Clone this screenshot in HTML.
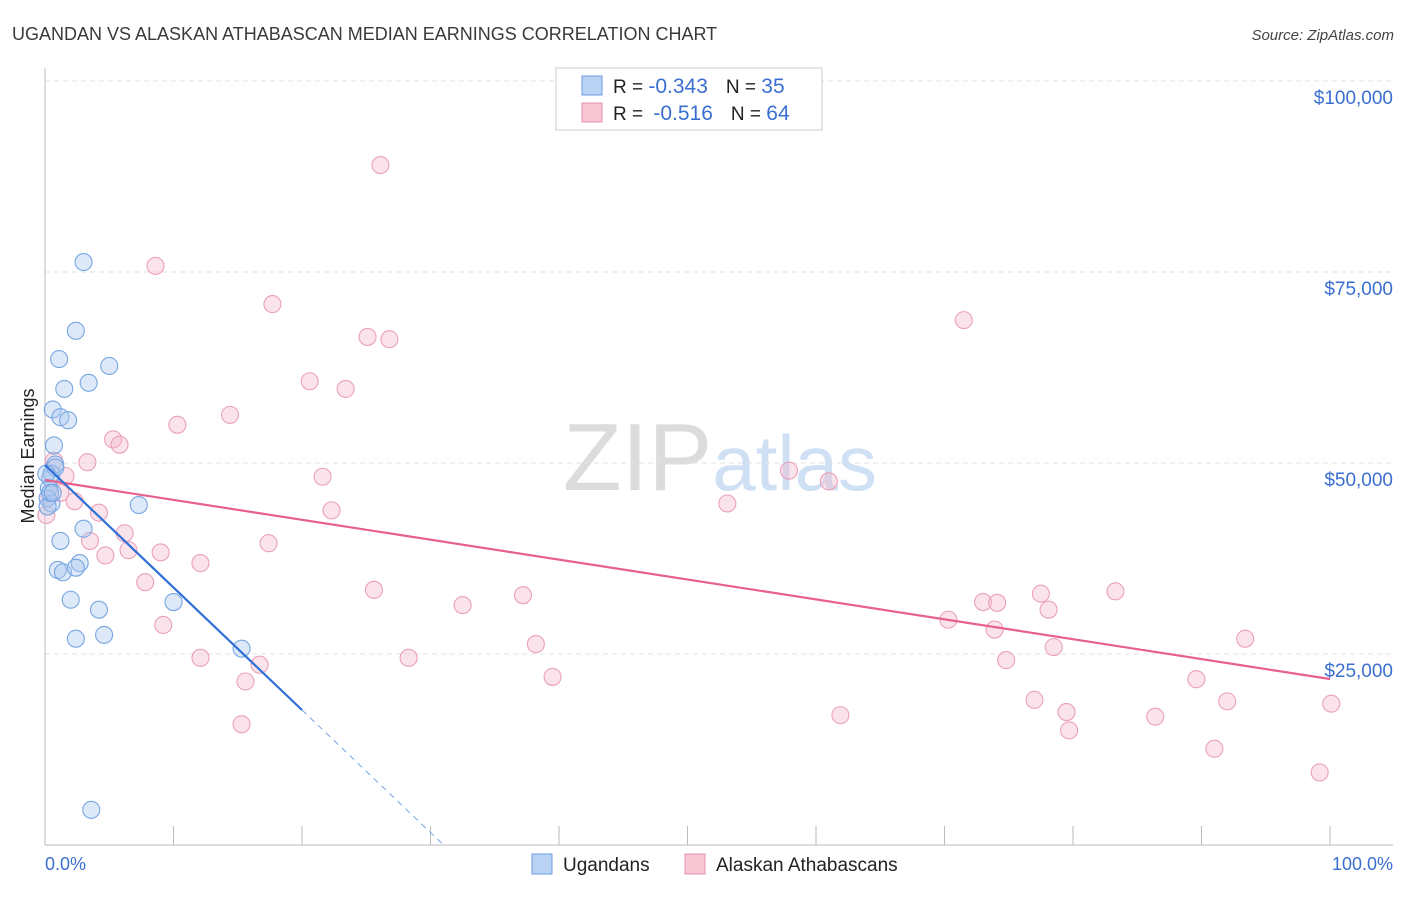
<!DOCTYPE html>
<html><head><meta charset="utf-8"><style>
body{margin:0;background:#fff;font-family:"Liberation Sans",sans-serif;}
svg text{font-family:"Liberation Sans",sans-serif;}
</style></head><body>
<svg id="chart" width="1406" height="892" xmlns="http://www.w3.org/2000/svg">
<text x="12" y="40" font-size="18" fill="#3a3a3a">UGANDAN VS ALASKAN ATHABASCAN MEDIAN EARNINGS CORRELATION CHART</text>
<text x="1394" y="40" font-size="15" fill="#444" text-anchor="end" font-style="italic">Source: ZipAtlas.com</text>
<text x="720" y="490" font-size="96" text-anchor="middle" fill="#ddd" font-family="Liberation Serif"><tspan fill="#dcdcdc">ZIP</tspan><tspan fill="#cfe0f4" font-family="Liberation Sans" font-size="78">atlas</tspan></text>
<g id="grid"></g>
<line x1="45" y1="68" x2="45" y2="845" stroke="#bbb"/>
<line x1="45" y1="845" x2="1393" y2="845" stroke="#bbb"/>
<text transform="translate(34,456) rotate(-90)" font-size="18" fill="#222" text-anchor="middle">Median Earnings</text>
<text x="45" y="870" font-size="18" fill="#3a6fd0">0.0%</text>
<text x="1393" y="870" font-size="18" fill="#3a6fd0" text-anchor="end">100.0%</text>
<g id="pts"></g>
<g id="lines"></g>
<g>
<rect x="556" y="68" width="266" height="62" fill="#fff" stroke="#ccc"/>
<rect x="582" y="76" width="20" height="19" fill="#b9d3f5" stroke="#6a9ee0"/>
<rect x="582" y="103" width="20" height="19" fill="#f9c6d6" stroke="#e890b0"/>
<text x="613" y="93" font-size="19" fill="#222">R = <tspan fill="#3a6fd0" font-size="21">-0.343</tspan><tspan dx="18">N = </tspan><tspan fill="#3a6fd0" font-size="21">35</tspan></text>
<text x="613" y="120" font-size="19" fill="#222">R = <tspan fill="#3a6fd0" dx="5" font-size="21">-0.516</tspan><tspan dx="18">N = </tspan><tspan fill="#3a6fd0" font-size="21">64</tspan></text>
</g>
<g>
<rect x="532" y="854" width="20" height="20" fill="#b9d3f5" stroke="#6a9ee0"/>
<text x="563" y="871" font-size="19" fill="#222">Ugandans</text>
<rect x="685" y="854" width="20" height="20" fill="#f9c6d6" stroke="#e890b0"/>
<text x="716" y="871" font-size="19" fill="#222">Alaskan Athabascans</text>
</g>
</svg>
<script>
const yTicks=[25000,50000,75000,100000];
const yTickLabels=["$25,000","$50,000","$75,000","$100,000"];
const xTicks=[0,10,20,30,40,50,60,70,80,90,100];
const ugX=[3.0,2.4,1.1,5.0,3.4,1.5,0.6,1.2,1.8,0.7,0.8,0.5,0.4,0.3,0.2,0.5,7.3,3.0,1.2,1.0,1.4,2.7,2.4,4.2,2.0,10.0,2.4,4.6,15.3,3.6,0.8,0.2,0.4,0.1,0.6];
const ugY=[76300,67300,63600,62700,60500,59700,57000,56000,55600,52300,49800,48600,48000,46700,45400,44700,44500,41400,39800,36000,35700,36900,36300,30800,32100,31800,27000,27500,25700,4600,49400,44300,46100,48600,46100];
const akX=[26.1,8.6,17.7,71.5,25.1,26.8,20.6,23.4,14.4,10.3,5.3,5.8,0.7,3.3,1.6,21.6,57.9,61.0,53.1,2.3,22.3,4.2,0.1,6.2,17.4,9.0,4.7,6.5,12.1,7.8,25.6,37.2,32.5,83.3,77.5,73.0,74.1,78.1,70.3,9.2,73.9,78.5,93.4,38.2,12.1,28.3,16.7,74.8,15.6,39.5,89.6,77.0,92.0,100.1,61.9,79.5,86.4,15.3,79.7,91.0,99.2,3.5,1.2,0.2];
const akY=[89000,75800,70800,68700,66500,66200,60700,59700,56300,55000,53100,52400,50300,50100,48300,48200,49000,47600,44700,45000,43800,43500,43200,40800,39500,38300,37900,38600,36900,34400,33400,32700,31400,33200,32900,31800,31700,30800,29500,28800,28200,25900,27000,26300,24500,24500,23600,24200,21400,22000,21700,19000,18800,18500,17000,17400,16800,15800,15000,12600,9500,39800,46100,45400];
const pinkLine=[47775,21728];
const blueLine=[49738,17670];
const NS="http://www.w3.org/2000/svg";
const X=v=>45+v/100*1285;
const Y=v=>845-v/25000*191;
function mk(t,a,p){const e=document.createElementNS(NS,t);for(const k in a)e.setAttribute(k,a[k]);p.appendChild(e);return e;}
const grid=document.getElementById('grid');
yTicks.forEach((t,i)=>{
 const l=mk('line',{x1:45,x2:1393,y1:Y(t),y2:Y(t),stroke:'#e2e2e2','stroke-dasharray':'5,4'},grid);
 
 
 const tx=mk('text',{x:1393,y:Y(t)+23,'font-size':19,fill:'#3a6fd0','text-anchor':'end'},grid);
 tx.textContent=yTickLabels[i];
 
 
});
xTicks.forEach(t=>{
 const l=mk('line',{x1:X(t),x2:X(t),y1:826,y2:845,stroke:'#bbb'},grid);
 
 
});
const pts=document.getElementById('pts');
akX.forEach((x,i)=>{
 const c=mk('circle',{cx:X(x),cy:Y(akY[i]),r:8.5,fill:'#f6b8cc','fill-opacity':0.4,stroke:'#eba0ba','stroke-width':1.1},pts);
 
 
});
ugX.forEach((x,i)=>{
 const c=mk('circle',{cx:X(x),cy:Y(ugY[i]),r:8.5,fill:'#a9c8f0','fill-opacity':0.4,stroke:'#78a6e2','stroke-width':1.1},pts);
 
 
});
const lines=document.getElementById('lines');
const pl=mk('line',{x1:X(0),y1:Y(pinkLine[0]),x2:X(100),y2:Y(pinkLine[1]),stroke:'#e8608e','stroke-width':2.2},lines);


const slope=(blueLine[1]-blueLine[0])/20;
const zeroX=-blueLine[0]/slope;
const bl=mk('line',{x1:X(0),y1:Y(blueLine[0]),x2:X(20),y2:Y(blueLine[1]),stroke:'#2f6fd6','stroke-width':2.2},lines);


const bd=mk('line',{x1:X(20),y1:Y(blueLine[1]),x2:X(zeroX),y2:Y(0),stroke:'#7aa3e0','stroke-width':1,'stroke-dasharray':'6,5'},lines);


</script>
</body></html>
